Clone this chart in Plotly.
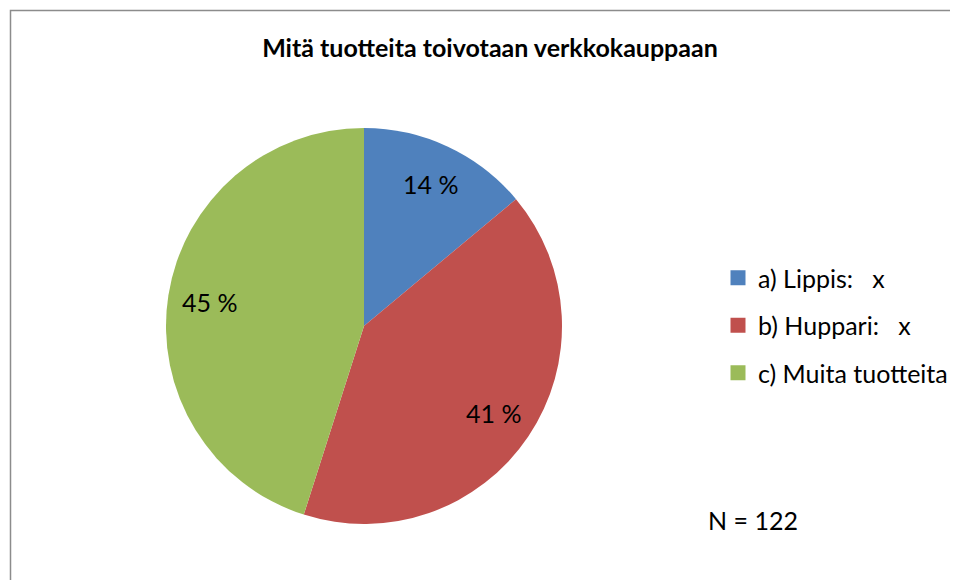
import math
import plotly.graph_objects as go

categories = ["a) Lippis:\u00a0\u00a0\u00a0x", "b) Huppari:\u00a0\u00a0\u00a0x", "c) Muita tuotteita"]
counts = [17, 50, 55]
colors = ["#4F81BD", "#C0504D", "#9BBB59"]
title_text = "Mitä tuotteita toivotaan verkkokauppaan"
n_label = "N = 122"

FONT = "Lato, 'Open Sans', sans-serif"
W, H = 958, 580
OFF = 8  # page body margin

def px(x):
    return (x - OFF) / W

def py(y):
    return 1 - (y - OFF) / H

CX, CY, R = 364, 326, 198

total = sum(counts)
pct_text = [f"{round(100 * c / total)} %" for c in counts]

fig = go.Figure()
fig.add_trace(go.Pie(
    labels=categories,
    values=counts,
    textinfo="none",
    marker=dict(colors=colors, line=dict(width=0)),
    sort=False,
    direction="clockwise",
    rotation=0,
    showlegend=False,
    hoverinfo="label+percent",
    domain=dict(x=[px(CX - R), px(CX + R)], y=[py(CY + R), py(CY - R)]),
))

# percentage labels placed along each slice's bisector
annotations = []
cum = 0
for c, t in zip(counts, pct_text):
    mid = (cum + c / 2) / total * 2 * math.pi
    cum += c
    rr = 0.79 * R
    lx = CX + rr * math.sin(mid)
    ly = CY - rr * math.cos(mid)
    annotations.append(dict(text=t, x=px(lx), y=py(ly), xref="paper", yref="paper",
                            xanchor="center", yanchor="middle", showarrow=False,
                            font=dict(size=25, family=FONT, color="black")))

annotations.append(dict(text=n_label, x=px(706), y=py(520), xref="paper", yref="paper",
                        xanchor="left", yanchor="middle", showarrow=False,
                        font=dict(size=25, family=FONT, color="black")))

# legend entries (one per category)
for name, col in zip(categories, colors):
    fig.add_trace(go.Scatter(
        x=[None], y=[None], mode="markers", name=name,
        marker=dict(symbol="square", size=15, color=col),
        legendgroup=name, showlegend=True,
    ))

fig.update_layout(
    width=W, height=H,
    margin=dict(l=0, r=0, t=0, b=0),
    paper_bgcolor="white", plot_bgcolor="white",
    title=dict(text=f"<b>{title_text}</b>", x=px(490), y=py(48),
               xanchor="center", yanchor="middle",
               font=dict(size=25, family=FONT, color="black")),
    xaxis=dict(visible=False), yaxis=dict(visible=False),
    legend=dict(x=px(718), y=py(255), xanchor="left", yanchor="top",
                font=dict(size=25, family=FONT, color="black"),
                tracegroupgap=12, itemclick=False, bgcolor="rgba(0,0,0,0)"),
    shapes=[dict(type="rect", xref="paper", yref="paper",
                 x0=px(10.5), x1=1.05, y0=-0.05, y1=py(10.5),
                 line=dict(color="#8C8C8C", width=1.5), fillcolor="rgba(0,0,0,0)")],
    annotations=annotations,
)

fig.write_html("out.html")
